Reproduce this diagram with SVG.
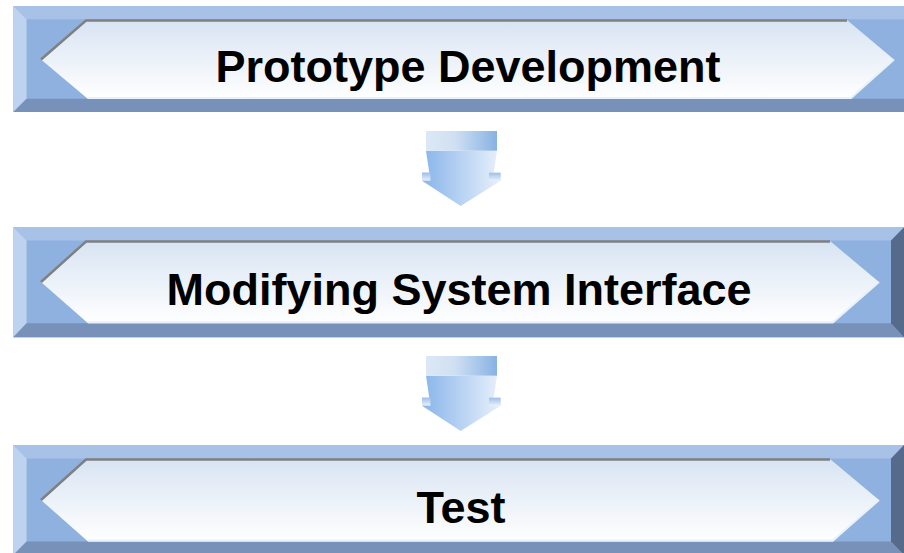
<svg xmlns="http://www.w3.org/2000/svg" width="904" height="553" viewBox="0 0 904 553">
<defs>
<linearGradient id="hexg" x1="0" y1="0" x2="0" y2="1">
<stop offset="0" stop-color="#D8E4F3"/>
<stop offset="1" stop-color="#FFFFFF"/>
</linearGradient>
<linearGradient id="arTop" x1="0" y1="0" x2="1" y2="0">
<stop offset="0" stop-color="#DCE8F6"/>
<stop offset="0.4" stop-color="#D0E0F3"/>
<stop offset="1" stop-color="#88B2E3"/>
</linearGradient>
<linearGradient id="arBody" x1="0" y1="0" x2="1" y2="0">
<stop offset="0" stop-color="#88B4EA"/>
<stop offset="1" stop-color="#E8F1FB"/>
</linearGradient>
<linearGradient id="arTab" x1="0" y1="0" x2="0" y2="1">
<stop offset="0" stop-color="#9DBFEA"/>
<stop offset="1" stop-color="#E8F0FA"/>
</linearGradient>
<style>
.face{fill:#8FB1E0}
.bt{fill:#A8C2E7}
.bl{fill:#BED3EF}
.bb{fill:#7891B8}
.br{fill:#566B8C}
.hex{fill:url(#hexg)}
.sh{fill:none;stroke:#808080;stroke-width:2.5}
.hl{fill:none;stroke:#E8F0FA;stroke-width:2}
.lbl{font-family:"Liberation Sans",Arial,sans-serif;font-weight:bold;font-size:45px;fill:#000;text-anchor:middle}
.atop{fill:url(#arTop)}
.abody{fill:url(#arBody)}
.atab{fill:url(#arTab)}
</style>
</defs>

<g id="node-prototype">
<rect class="face" x="13.3" y="6" width="906.7" height="106"/>
<polygon class="bt" points="13.3,6 920,6 906.7,19.3 26.6,19.3"/>
<polygon class="bl" points="13.3,6 26.6,19.3 26.6,98.7 13.3,112"/>
<polygon class="bb" points="13.3,112 26.6,98.7 906.7,98.7 920,112"/>
<polygon class="br" points="920,6 920,112 906.7,98.7 906.7,19.3"/>
<polygon class="hex" points="86,20 847,20 894,59.5 851,99 88,99 41,59.5"/>
<polyline class="sh" points="41,59.5 86,20.5 847,20.5"/>
<polyline class="hl" points="894,59.5 851,98 88,98"/>
<text class="lbl" x="468" y="82">Prototype Development</text>
</g>

<g id="node-modifying">
<rect class="face" x="13.3" y="227.3" width="890.7" height="110"/>
<polygon class="bt" points="13.3,227.3 904,227.3 891,240.6 26.6,240.6"/>
<polygon class="bl" points="13.3,227.3 26.6,240.6 26.6,323.3 13.3,337.3"/>
<polygon class="bb" points="13.3,337.3 26.6,323.3 891,323.3 904,337.3"/>
<polygon class="br" points="904,227.3 904,337.3 891,323.3 891,240.6"/>
<polygon class="hex" points="86,241 830,241 879,282 833,323.3 88,323.3 41,282"/>
<polyline class="sh" points="41,282 86,241.5 830,241.5"/>
<polyline class="hl" points="879,282 833,322.3 88,322.3"/>
<text class="lbl" x="459" y="305">Modifying System Interface</text>
</g>

<g id="node-test">
<rect class="face" x="13.3" y="445" width="890.7" height="110"/>
<polygon class="bt" points="13.3,445 904,445 891,458.5 26.6,458.5"/>
<polygon class="bl" points="13.3,445 26.6,458.5 26.6,541.5 13.3,555"/>
<polygon class="bb" points="13.3,555 26.6,541.5 891,541.5 904,555"/>
<polygon class="br" points="904,445 904,555 891,541.5 891,458.5"/>
<polygon class="hex" points="86,459 830,459 879,500 833,541.5 88,541.5 41,500"/>
<polyline class="sh" points="41,500 86,459.5 830,459.5"/>
<polyline class="hl" points="879,500 833,540.5 88,540.5"/>
<text class="lbl" x="461" y="523">Test</text>
</g>

<g id="connectors">
<g id="arrow-1">
<polygon class="abody" points="426,150.7 497,150.7 493.7,172.7 500.7,172.7 500.7,180.7 460.7,206 422,180.7 422,172.7 429.3,172.7"/>
<rect class="atop" x="426" y="131" width="71" height="19.7"/>
<rect class="atab" x="422" y="172.7" width="8.5" height="8"/>
<rect class="atab" x="489" y="172.7" width="11.7" height="8"/>
</g>
<g id="arrow-2">
<polygon class="abody" points="426,375.7 497,375.7 493.7,397.7 500.7,397.7 500.7,405.7 460.7,431 422,405.7 422,397.7 429.3,397.7"/>
<rect class="atop" x="426" y="356" width="71" height="19.7"/>
<rect class="atab" x="422" y="397.7" width="8.5" height="8"/>
<rect class="atab" x="489" y="397.7" width="11.7" height="8"/>
</g>
</g>
</svg>
